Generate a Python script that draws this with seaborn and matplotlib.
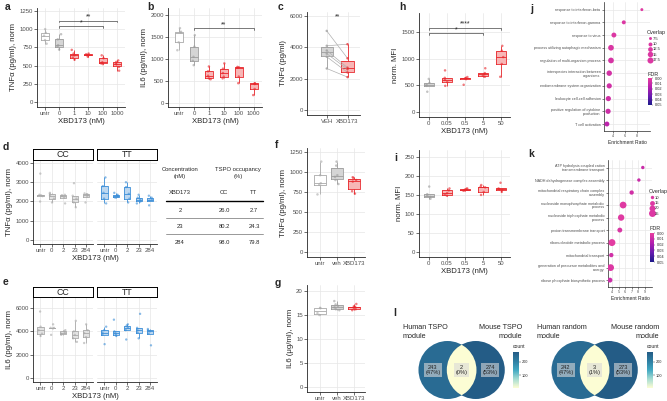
import numpy as np
import pandas as pd
import matplotlib
matplotlib.use("Agg")
import matplotlib.pyplot as plt
import seaborn as sns
from matplotlib.patches import Circle
from matplotlib.lines import Line2D
from matplotlib.colors import LinearSegmentedColormap, Normalize
from matplotlib.cm import ScalarMappable

W, H = 667, 401

# ---------------- data ----------------
# a / b: mouse cells, XBD173 dose series
dose_groups = ["untr", "0", "1", "10", "100", "1000"]
dose_kinds = ["untr", "veh", "drug", "drug", "drug", "drug"]
a_tnf = [[1000, 950, 910, 850, 800], [930, 860, 780, 760, 720],
         [715, 665, 640, 610, 580], [665, 655, 648, 640, 620],
         [640, 600, 545, 530, 520], [570, 550, 525, 515, 480, 430]]
b_il6 = [[1700, 1620, 1600, 1380, 1200], [1540, 1280, 1050, 960, 860],
         [830, 720, 620, 560, 540], [900, 780, 680, 600, 560],
         [820, 810, 800, 600, 450], [450, 445, 430, 320, 180]]

# c: paired donors
c_groups = ["VEH", "XBD173"]
c_veh = [5050, 4100, 3800, 3600, 3400, 2650]
c_xbd = [3300, 4200, 2700, 2600, 2400, 2100]

# h / i: MFI dose series
mfi_groups = ["0", "0.05", "0.5", "5", "50"]
mfi_kinds = ["veh", "drug", "drug", "drug", "drug"]
h_mfi = [[620, 545, 510, 490, 380], [780, 640, 600, 560, 490],
         [655, 640, 630, 615, 510], [820, 730, 710, 680, 660],
         [1240, 1150, 1030, 900, 660]]
i_mfi = [[172, 152, 148, 145, 140], [167, 162, 155, 151, 148],
         [167, 166, 164, 162, 161], [176, 172, 170, 158, 150],
         [182, 167, 165, 163, 158]]

# d / e: genotype facets
geno_groups = ["untr", "0", "2", "23", "284"]
d_cc = [[3450, 2350, 2320, 2280, 2000], [2450, 2400, 2300, 2150, 1950],
        [2350, 2320, 2300, 2200, 1900], [2950, 2300, 2150, 1950, 1700],
        [2420, 2380, 2350, 2250, 1950]]
d_tt = [[3250, 2800, 2450, 2150, 1900], [2450, 2350, 2300, 2250, 2200],
        [3000, 2750, 2400, 2150, 1950], [2350, 2200, 2100, 2000, 1900],
        [2300, 2200, 2100, 2050, 1800]]
e_cc = [[5700, 4400, 4100, 3800, 3600], [4600, 4300, 4300, 4250, 3700],
        [4100, 4000, 3900, 3800, 3700], [4900, 4000, 3700, 3400, 3100],
        [4600, 4100, 3850, 3500, 3000]]
e_tt = [[4400, 4100, 3900, 3700, 2900], [5000, 4000, 3850, 3700, 3600],
        [4600, 4500, 4300, 4100, 3300], [5500, 4300, 4100, 3900, 3400],
        [4200, 4100, 4000, 3800, 2800]]

# occupancy table
occ_conc = [2, 23, 284]
occ_cc = [26.0, 80.2, 98.0]
occ_tt = [2.7, 24.3, 79.8]

# f / g: human cells
fg_groups = ["untr", "veh", "XBD173"]
fg_kinds = ["untr", "veh", "drug"]
f_tnf = [[1130, 960, 860, 840, 720], [1130, 1080, 960, 940, 900, 850],
         [935, 925, 900, 880, 760, 730]]
g_il6 = [[16.5, 16.4, 15.4, 15.0], [17.9, 17.2, 16.9, 16.6, 16.2, 16.0],
         [17.3, 16.8, 16.7, 16.6, 16.5, 16.2, 16.0]]

# j / k: enrichment
j_terms = ["response to interferon-beta", "response to interferon-gamma",
           "response to virus", "process utilizing autophagic mechanism",
           "regulation of multi-organism process",
           "interspecies interaction between\norganisms",
           "endomembrane system organization", "leukocyte cell-cell adhesion",
           "positive regulation of cytokine\nproduction", "T cell activation"]
j_ratio = [8.9, 5.8, 4.1, 3.6, 3.6, 3.3, 3.3, 3.15, 3.1, 2.9]
j_overlap = [7, 10, 13, 16, 16, 15, 14, 14, 14, 13]
j_fdr = [0.003, 0.004, 0.004, 0.005, 0.006, 0.007, 0.008, 0.008, 0.009, 0.014]

k_terms = ["ATP hydrolysis coupled cation\ntransmembrane transport",
           "NADH dehydrogenase complex assembly",
           "mitochondrial respiratory chain complex\nassembly",
           "nucleoside monophosphate metabolic\nprocess",
           "nucleoside triphosphate metabolic\nprocess",
           "proton transmembrane transport",
           "ribonucleotide metabolic process", "mitochondrial transport",
           "generation of precursor metabolites and\nenergy",
           "ribose phosphate biosynthetic process"]
k_ratio = [8.7, 8.1, 7.0, 5.7, 5.4, 5.2, 4.0, 3.9, 3.8, 3.7]
k_overlap = [8, 8, 13, 24, 22, 15, 27, 13, 24, 15]
k_fdr = [0.010, 0.010, 0.008, 0.003, 0.003, 0.005, 0.002, 0.008, 0.004, 0.009]

# l: module overlap
venn1_counts = [243, 2, 274]
venn1_pcts = [47, 0, 53]
venn2_counts = [242, 3, 273]
venn2_pcts = [47, 1, 53]

# ---------------- style ----------------
KIND_FILL = {"untr": "white", "veh": "#d5d5d5", "drug": "#f7b6b6",
             "cc": "#e2e2e2", "tt": "#bcd7f0"}
KIND_EDGE = {"untr": "#a9a9a9", "veh": "#9c9c9c", "drug": "#e8262b",
             "cc": "#a9a9a9", "tt": "#3b8ed8"}
fdr_cmap = LinearSegmentedColormap.from_list(
    "fdr", ["#e8409f", "#b51fae", "#6a1bb0", "#1c1a8a"])
count_cmap = LinearSegmentedColormap.from_list(
    "cnt", ["#fcfdd4", "#a6dcd2", "#41a8c2", "#2e7ea2", "#245c86"])

sns.set_theme(style="ticks")
plt.rcParams["font.family"] = ["Liberation Sans", "DejaVu Sans"]
plt.rcParams["axes.linewidth"] = 0.6
np.random.seed(3)

fig = plt.figure(figsize=(W / 100, H / 100), dpi=100)
fig.patch.set_facecolor("white")


def px_axes(x0, y0, x1, y1):
    return fig.add_axes([x0 / W, 1 - y1 / H, (x1 - x0) / W, (y1 - y0) / H])


def to_long(groups, vals):
    rows = [(g, v) for g, vs in zip(groups, vals) for v in vs]
    return pd.DataFrame(rows, columns=["grp", "val"])


def box_panel(ax, groups, vals, kinds, width=0.55, jitter=0.15, ms=1.8):
    df = to_long(groups, vals)
    fills = {g: KIND_FILL[k] for g, k in zip(groups, kinds)}
    edges = {g: KIND_EDGE[k] for g, k in zip(groups, kinds)}
    common = dict(data=df, x="grp", y="val", hue="grp", order=groups,
                  hue_order=groups, legend=False, ax=ax, dodge=False)
    sns.boxplot(**common, palette=fills, width=width, linewidth=0,
                showfliers=False, showcaps=False, saturation=1)
    sns.boxplot(**common, palette=edges, fill=False, width=width,
                linewidth=0.6, showfliers=False, showcaps=False, saturation=1)
    if jitter is not None:
        sns.stripplot(**common, palette=edges, size=ms, alpha=0.6,
                      jitter=jitter, linewidth=0)


def style(ax, ylim, yticks, ylabel="", xlabel="", xlim=None, grid=False,
          left=True):
    ax.set_ylim(ylim)
    ax.set_yticks(yticks)
    if xlim is not None:
        ax.set_xlim(xlim)
    ax.set_ylabel(ylabel, fontsize=5.6, labelpad=1.5)
    ax.set_xlabel(xlabel, fontsize=5.6, labelpad=1.5)
    sns.despine(ax=ax)
    ax.tick_params(length=2, width=0.5, labelsize=4.3, pad=1,
                   labelcolor="#4d4d4d", color="#333333")
    ax.grid(grid, color="#e6e6e6", lw=0.5)
    ax.set_axisbelow(True)
    if not left:
        ax.spines["left"].set_visible(False)
        ax.tick_params(axis="y", left=False, labelleft=False)


def bracket(ax, i, j, y, tick, text):
    ax.plot([i, i, j, j], [y - tick, y, y, y - tick], color="#444444", lw=0.5)
    ax.text((i + j) / 2, y, text, ha="center", va="bottom", fontsize=5)


# overlay for free text
ov = fig.add_axes([0, 0, 1, 1])
ov.set_xlim(0, W)
ov.set_ylim(H, 0)
ov.axis("off")
ov.set_zorder(10)

for letter, x, y in [("a", 5, 7), ("b", 147, 7), ("c", 278, 7), ("h", 399, 7),
                     ("j", 530, 9), ("d", 3, 147), ("f", 275, 145),
                     ("i", 394, 158), ("k", 528, 154), ("e", 3, 282),
                     ("g", 275, 283), ("l", 393, 313)]:
    ov.text(x, y, letter, fontsize=7.5, fontweight="bold", ha="left",
            va="center")

# ---- a ----
ax = px_axes(37, 8, 125, 107)
box_panel(ax, dose_groups, a_tnf, dose_kinds)
style(ax, (-69, 1290), [0, 250, 500, 750, 1000, 1250],
      "TNF\u03b1 (pg/ml), norm", "XBD173 (nM)", (-0.55, 5.55), grid=True)
bracket(ax, 1, 4, 1044, 25, "*")
bracket(ax, 1, 5, 1118, 25, "**")

# ---- b ----
ax = px_axes(168, 8, 262, 107)
box_panel(ax, dose_groups, b_il6, dose_kinds)
style(ax, (-91, 2159), [0, 500, 1000, 1500, 2000],
      "IL6 (pg/ml), norm", "XBD173 (nM)", (-0.75, 5.55), grid=True)
bracket(ax, 1, 5, 1705, 40, "**")

# ---- c ----
ax = px_axes(307, 12, 360, 115)
box_panel(ax, c_groups, [c_veh, c_xbd], ["veh", "drug"], width=0.6,
          jitter=None)
for v0, v1 in zip(c_veh, c_xbd):
    ax.plot([0, 1], [v0, v1], color="#b0b0b0", lw=0.5, zorder=3)
sns.stripplot(data=to_long(c_groups, [c_veh, c_xbd]), x="grp", y="val",
              hue="grp", palette={"VEH": "#9c9c9c", "XBD173": "#e8262b"},
              jitter=False, size=1.8, alpha=0.7, legend=False, ax=ax)
style(ax, (-319, 6256), [0, 2000, 4000, 6000], "TNF\u03b1 (pg/ml)", "",
      (-0.95, 1.6))
ax.text(0.5, 5700, "**", ha="center", va="bottom", fontsize=5)

# ---- h ----
ax = px_axes(419, 13, 510, 117)
box_panel(ax, mfi_groups, h_mfi, mfi_kinds)
style(ax, (-94, 1856), [0, 500, 1000, 1500], "norm. MFI", "XBD173 (nM)",
      (-0.55, 4.5))
bracket(ax, 0, 4, 1580, 40, "****")
bracket(ax, 0, 3, 1475, 40, "*")

# ---- i ----
ax = px_axes(419, 150, 510, 257)
box_panel(ax, mfi_groups, i_mfi, mfi_kinds)
style(ax, (-13, 268), [0, 50, 100, 150, 200, 250], "norm. MFI",
      "XBD173 (nM)", (-0.55, 4.5))

# ---- d / e facets ----
def facet_row(y_strip, y0, y1, cc_vals, tt_vals, ylim, yticks, ylabel,
              xlab_y):
    for (x0, x1), vals, kind, name, left in [((33, 93), cc_vals, "cc", "CC", True),
                                              ((97, 157), tt_vals, "tt", "TT", False)]:
        ax = px_axes(x0, y0, x1, y1)
        box_panel(ax, geno_groups, vals, [kind] * len(geno_groups),
                  jitter=0.2, ms=1.7)
        style(ax, ylim, yticks, ylabel if left else "", "", (-0.65, 4.6),
              left=left)
        st = px_axes(x0, y_strip, x1, y0 - 0.5)
        st.set_xticks([])
        st.set_yticks([])
        for s in st.spines.values():
            s.set_visible(True)
            s.set_linewidth(0.7)
            s.set_color("black")
        st.text(0.5, 0.45, name, ha="center", va="center", fontsize=6.3,
                transform=st.transAxes)
    ov.text(95, xlab_y, "XBD173 (nM)", ha="center", va="center", fontsize=5.6)


facet_row(149, 160, 244, d_cc, d_tt, (-208, 4156),
          [0, 1000, 2000, 3000, 4000], "TNF\u03b1 (pg/ml), norm", 258)
facet_row(287, 297, 382, e_cc, e_tt, (-343, 6943), [0, 2000, 4000, 6000],
          "IL6 (pg/ml), norm", 397)

# ---- occupancy table ----
tfs = 4.2
ov.text(180, 173, "Concentration\n(nM)", ha="center", va="center",
        fontsize=tfs, linespacing=1.3)
ov.text(238, 173, "TSPO occupancy\n(%)", ha="center", va="center",
        fontsize=tfs, linespacing=1.3)
ov.text(180, 193, "XBD173", ha="center", va="center", fontsize=tfs)
ov.text(224, 193, "CC", ha="center", va="center", fontsize=tfs)
ov.text(254, 193, "TT", ha="center", va="center", fontsize=tfs)
ov.plot([166, 263], [201, 201], color="black", lw=1.0)
for r, (conc, cc, tt) in enumerate(zip(occ_conc, occ_cc, occ_tt)):
    yy = 210 + r * 16
    ov.text(180, yy, str(conc), ha="center", va="center", fontsize=tfs)
    ov.text(224, yy, f"{cc:.1f}", ha="center", va="center", fontsize=tfs)
    ov.text(254, yy, f"{tt:.1f}", ha="center", va="center", fontsize=tfs)
    if r < len(occ_conc) - 1:
        ov.plot([166, 263], [yy + 8, yy + 8], color="#888888", lw=0.6)

# ---- f ----
ax = px_axes(307, 148, 365, 257)
box_panel(ax, fg_groups, f_tnf, fg_kinds, width=0.7)
style(ax, (-62, 1300), [0, 250, 500, 750, 1000, 1250],
      "TNF\u03b1 (pg/ml), norm", "", (-0.75, 2.65))

# ---- g ----
ax = px_axes(307, 285, 365, 392)
box_panel(ax, fg_groups, g_il6, fg_kinds, width=0.7)
style(ax, (-1.04, 21.25), [0, 5, 10, 15, 20], "IL6 (\u03bcg/ml), norm", "",
      (-0.75, 2.65))


# ---- j / k dot plots ----
def dot_panel(box, terms, ratio, overlap, fdr, s_rng, s_norm, xlim, xticks,
              leg_vals, leg_xy, cbar_box):
    ax = px_axes(*box)
    pos = np.arange(len(terms))
    df = pd.DataFrame({"ratio": ratio, "pos": pos, "overlap": overlap,
                       "fdr": fdr})
    sns.scatterplot(data=df, x="ratio", y="pos", size="overlap", sizes=s_rng,
                    size_norm=s_norm, hue="fdr", hue_norm=(0, 0.05),
                    palette=fdr_cmap, legend=False, linewidth=0, ax=ax,
                    zorder=3)
    ax.set_yticks(pos, terms)
    ax.set_ylim(len(terms) - 0.45, -0.6)
    ax.set_xlim(xlim)
    ax.set_xticks(xticks)
    ax.set_xlabel("Enrichment Ratio", fontsize=3.6, labelpad=1)
    ax.set_ylabel("")
    sns.despine(ax=ax)
    ax.grid(True, color="#e8e8e8", lw=0.5)
    ax.set_axisbelow(True)
    ax.tick_params(length=1.5, width=0.4, labelsize=2.7, pad=1,
                   labelcolor="#4d4d4d")
    for lab in ax.get_yticklabels():
        lab.set_linespacing(0.95)
    for s in ("left", "bottom"):
        ax.spines[s].set_linewidth(0.5)

    def size_of(v):
        return s_rng[0] + (v - s_norm[0]) / (s_norm[1] - s_norm[0]) * (s_rng[1] - s_rng[0])

    handles = [Line2D([], [], marker="o", ls="", color=fdr_cmap(0.08),
                      markersize=np.sqrt(size_of(v)), markeredgewidth=0)
               for v in leg_vals]
    leg = ax.legend(handles, [f"{v:g}" if v % 1 else f"{v:.0f}" for v in leg_vals],
                    title="Overlap", loc="upper left",
                    bbox_to_anchor=(leg_xy[0] / W, 1 - leg_xy[1] / H),
                    bbox_transform=fig.transFigure, frameon=False,
                    fontsize=3, title_fontsize=3.9, handletextpad=0.1,
                    labelspacing=0.35, borderpad=0, handlelength=1.2)
    leg._legend_box.align = "left"

    cax = px_axes(*cbar_box)
    cb = fig.colorbar(ScalarMappable(Normalize(0, 0.05), fdr_cmap), cax=cax)
    cax.invert_yaxis()
    cb.set_ticks([0, 0.01, 0.02, 0.03, 0.04, 0.05])
    cb.ax.tick_params(labelsize=2.8, length=1, width=0.3, pad=0.8)
    cb.outline.set_visible(False)
    cax.set_yticklabels([f"{t:.2f}" for t in [0, 0.01, 0.02, 0.03, 0.04, 0.05]])
    ov.text(cbar_box[0], cbar_box[1] - 4, "FDR", fontsize=3.9, ha="left",
            va="center")


dot_panel((604, 2, 650, 131), j_terms, j_ratio, j_overlap, j_fdr,
          (4.5, 19), (7.5, 17.5), (2.4, 10.3), [4, 6, 8],
          [7.5, 10.0, 12.5, 15.0, 17.5], (645, 28), (648, 78, 652, 105))
dot_panel((608, 160, 652, 287), k_terms, k_ratio, k_overlap, k_fdr,
          (6, 25), (10, 25), (3.4, 10.1), [4, 5, 6, 7, 8, 9],
          [10, 15, 20, 25], (647, 187), (650, 233, 654, 262))


# ---- l: venn diagrams ----
def venn(box, counts, pcts, cbar_box):
    ax = px_axes(*box)
    r = 29.0
    d = 28.3 / r
    norm = Normalize(min(counts), max(counts))
    w = (box[2] - box[0]) / r
    h = (box[3] - box[1]) / r
    off = -1.12
    ax.set_xlim(off, off + w)
    ax.set_ylim(-h / 2, h / 2)
    ax.axis("off")
    c1 = Circle((0, 0), 1, color=count_cmap(norm(counts[0])), lw=0)
    c2 = Circle((d, 0), 1, color=count_cmap(norm(counts[2])), lw=0)
    ax.add_patch(c1)
    ax.add_patch(c2)
    lens = Circle((0, 0), 1, color=count_cmap(norm(counts[1])), lw=0)
    ax.add_patch(lens)
    lens.set_clip_path(c2)
    for xpos, n, p in zip([-0.5, d / 2, d + 0.5], counts, pcts):
        ax.text(xpos, 0, f"{n}\n({p}%)", ha="center", va="center",
                fontsize=4.1, linespacing=1.1, color="#222222",
                bbox=dict(boxstyle="square,pad=0.25", fc="#d9d9d9",
                          ec="none", alpha=0.6))
    cax = px_axes(*cbar_box)
    cb = fig.colorbar(ScalarMappable(norm, count_cmap), cax=cax)
    cb.set_ticks([100, 200])
    cb.outline.set_visible(False)
    cb.ax.tick_params(labelsize=2.8, length=1.2, width=0.3, pad=0.8)
    ov.text(cbar_box[0], cbar_box[1] - 5, "count", fontsize=3.6, ha="left",
            va="center")


venn((415, 340, 510, 400), venn1_counts, venn1_pcts, (513, 352, 519, 388))
venn((548, 340, 641, 400), venn2_counts, venn2_pcts, (647, 352, 653, 388))

vfs = 5.2
ov.text(403, 332, "Human TSPO\nmodule", fontsize=vfs, ha="left", va="center",
        linespacing=1.45)
ov.text(522, 332, "Mouse TSPO\nmodule", fontsize=vfs, ha="right",
        va="center", linespacing=1.45, multialignment="right")
ov.text(537, 332, "Human random\nmodule", fontsize=vfs, ha="left",
        va="center", linespacing=1.45)
ov.text(659, 332, "Mouse random\nmodule", fontsize=vfs, ha="right",
        va="center", linespacing=1.45, multialignment="right")

fig.savefig("out.png", dpi=100)
